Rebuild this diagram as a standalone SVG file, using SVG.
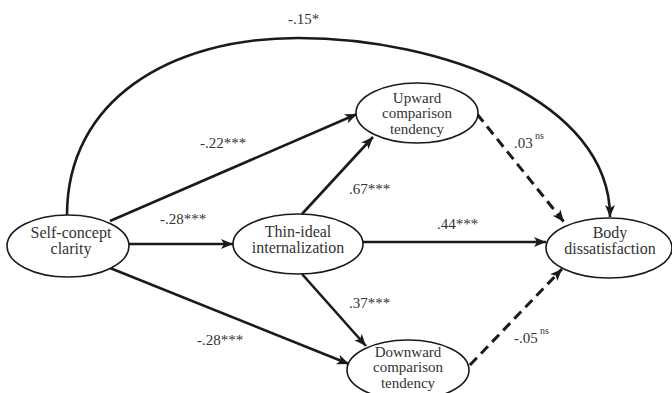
<svg xmlns="http://www.w3.org/2000/svg" width="672" height="393" viewBox="0 0 672 393">
<style>
.node ellipse{fill:#fff;stroke:#1a1a1a;stroke-width:1.6}
.node text{font-family:"Liberation Serif","Times New Roman",serif;font-size:16px;fill:#333;text-anchor:middle}
.node text.s{font-size:15px}
.lbl{font-family:"Liberation Serif","Times New Roman",serif;font-size:15px;fill:#333}
.sup{font-family:"Liberation Serif","Times New Roman",serif;font-size:10px;fill:#333}
.edge{fill:none;stroke:#1a1a1a;stroke-width:2.6}
.dash{stroke-dasharray:10 6;stroke-width:3}
</style>
<defs>
<marker id="ah" markerUnits="userSpaceOnUse" markerWidth="14" markerHeight="12" refX="12" refY="5" orient="auto">
<path d="M0,0 L12,5 L0,10 L3,5 z" fill="#1a1a1a"/>
</marker>
</defs>
<g id="connectors">
<path class="edge" d="M67,215 C67,100 170,38 298,38 C440,38 610,100 610,217" marker-end="url(#ah)"/>
<line class="edge" x1="110" y1="221" x2="357" y2="114" marker-end="url(#ah)"/>
<line class="edge" x1="129" y1="244" x2="233" y2="244" marker-end="url(#ah)"/>
<line class="edge" x1="110" y1="268" x2="349" y2="364" marker-end="url(#ah)"/>
<line class="edge" x1="302" y1="214" x2="373" y2="137" marker-end="url(#ah)"/>
<line class="edge" x1="302" y1="274" x2="366" y2="346" marker-end="url(#ah)"/>
<line class="edge" x1="363" y1="242" x2="546" y2="242" marker-end="url(#ah)"/>
<line class="edge dash" x1="477" y1="114" x2="564" y2="222" marker-end="url(#ah)"/>
<line class="edge dash" x1="470" y1="365" x2="562" y2="269" marker-end="url(#ah)"/>
</g>
<g id="labels">
<text class="lbl" x="288" y="24">-.15*</text>
<text class="lbl" x="200" y="148">-.22***</text>
<text class="lbl" x="160" y="224">-.28***</text>
<text class="lbl" x="197" y="345">-.28***</text>
<text class="lbl" x="349" y="194">.67***</text>
<text class="lbl" x="349" y="308">.37***</text>
<text class="lbl" x="437" y="229">.44***</text>
<text class="lbl" x="514" y="148">.03</text>
<text class="sup" x="535" y="139">ns</text>
<text class="lbl" x="514" y="343">-.05</text>
<text class="sup" x="540" y="334">ns</text>
</g>
<g id="self-concept" class="node">
<ellipse cx="68" cy="246" rx="61" ry="31"/>
<text x="71" y="238">Self-concept</text>
<text x="71" y="254">clarity</text>
</g>
<g id="thin-ideal" class="node">
<ellipse cx="298" cy="244" rx="65" ry="30"/>
<text x="298" y="237">Thin-ideal</text>
<text x="298" y="253">internalization</text>
</g>
<g id="upward" class="node">
<ellipse cx="417" cy="113" rx="61" ry="30"/>
<text class="s" x="417" y="102.5">Upward</text>
<text class="s" x="417" y="118">comparison</text>
<text class="s" x="417" y="133.5">tendency</text>
</g>
<g id="downward" class="node">
<ellipse cx="408" cy="370" rx="61" ry="30"/>
<text class="s" x="408" y="356.5">Downward</text>
<text class="s" x="408" y="372">comparison</text>
<text class="s" x="408" y="387.5">tendency</text>
</g>
<g id="body" class="node">
<ellipse cx="609" cy="248" rx="63" ry="30"/>
<text x="610" y="238">Body</text>
<text x="610" y="254">dissatisfaction</text>
</g>
</svg>
